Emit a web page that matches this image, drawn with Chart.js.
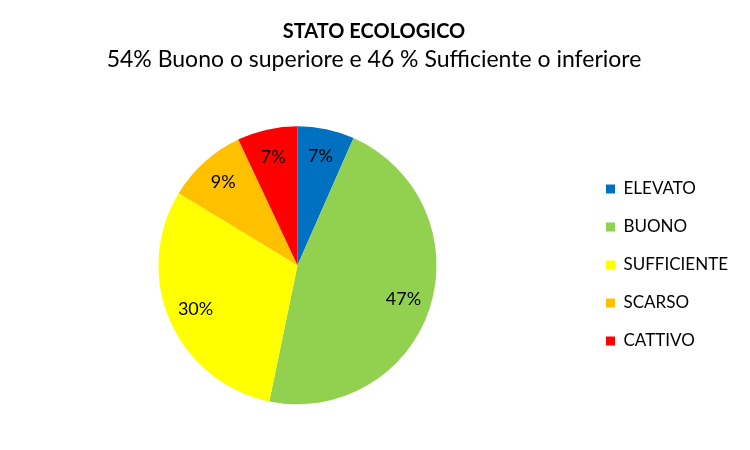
<!DOCTYPE html>
<html>
<head>
<meta charset="utf-8">
<script src="https://cdn.jsdelivr.net/npm/chart.js@4/dist/chart.umd.min.js"></script>
<style>
  html, body { margin: 0; padding: 0; background: #fff; }
  #wrap { width: 750px; height: 450px; }
</style>
</head>
<body>
<div id="wrap"><canvas id="c" width="750" height="450"></canvas></div>
<script>
const titleText = "STATO ECOLOGICO";
const subtitleText = "54% Buono o superiore e 46 % Sufficiente o inferiore";
const categories = ["ELEVATO", "BUONO", "SUFFICIENTE", "SCARSO", "CATTIVO"];
const shares = [6.6, 46.6, 30.4, 9.3, 7.0];
const colors = ["#0070C0", "#92D050", "#FFFF00", "#FFC000", "#FF0000"];

const FONT = "Lato, 'Open Sans', sans-serif";

const pieLabels = {
  id: 'pieLabels',
  afterDatasetsDraw(chart) {
    const ctx = chart.ctx;
    const meta = chart.getDatasetMeta(0);
    const data = chart.data.datasets[0].data;
    const total = data.reduce((a, b) => a + b, 0);
    ctx.save();
    ctx.font = "18px " + FONT;
    ctx.fillStyle = "#000";
    ctx.textAlign = "center";
    ctx.textBaseline = "middle";
    meta.data.forEach((arc, i) => {
      const p = arc.getProps(['x', 'y', 'startAngle', 'endAngle', 'outerRadius'], true);
      const mid = (p.startAngle + p.endAngle) / 2;
      const r = p.outerRadius * 0.8;
      const x = p.x + Math.cos(mid) * r;
      const y = p.y + Math.sin(mid) * r;
      ctx.fillText(Math.round(data[i] / total * 100) + "%", x, y);
    });
    ctx.restore();
  }
};

new Chart(document.getElementById('c'), {
  type: 'pie',
  data: {
    labels: categories,
    datasets: [{
      data: shares,
      backgroundColor: colors,
      borderWidth: 0,
      radius: 139
    }]
  },
  options: {
    responsive: false,
    animation: false,
    layout: { padding: { left: 10, right: 12, top: 10, bottom: 0 } },
    plugins: {
      title: {
        display: true,
        text: titleText,
        color: "#000",
        font: { family: FONT, size: 20, weight: 'bold' },
        padding: { top: 10, bottom: 2 }
      },
      subtitle: {
        display: true,
        text: subtitleText,
        color: "#000",
        font: { family: FONT, size: 23, weight: 'normal' },
        padding: { top: 0, bottom: 7 }
      },
      legend: {
        position: 'right',
        title: {
          display: true,
          text: ' ',
          font: { family: FONT, size: 10 },
          padding: { top: 0, bottom: 58 }
        },
        labels: {
          color: "#000",
          font: { family: FONT, size: 17 },
          boxWidth: 9,
          boxHeight: 9,
          padding: 21
        }
      },
      tooltip: { enabled: false }
    }
  },
  plugins: [pieLabels]
});
</script>
</body>
</html>
